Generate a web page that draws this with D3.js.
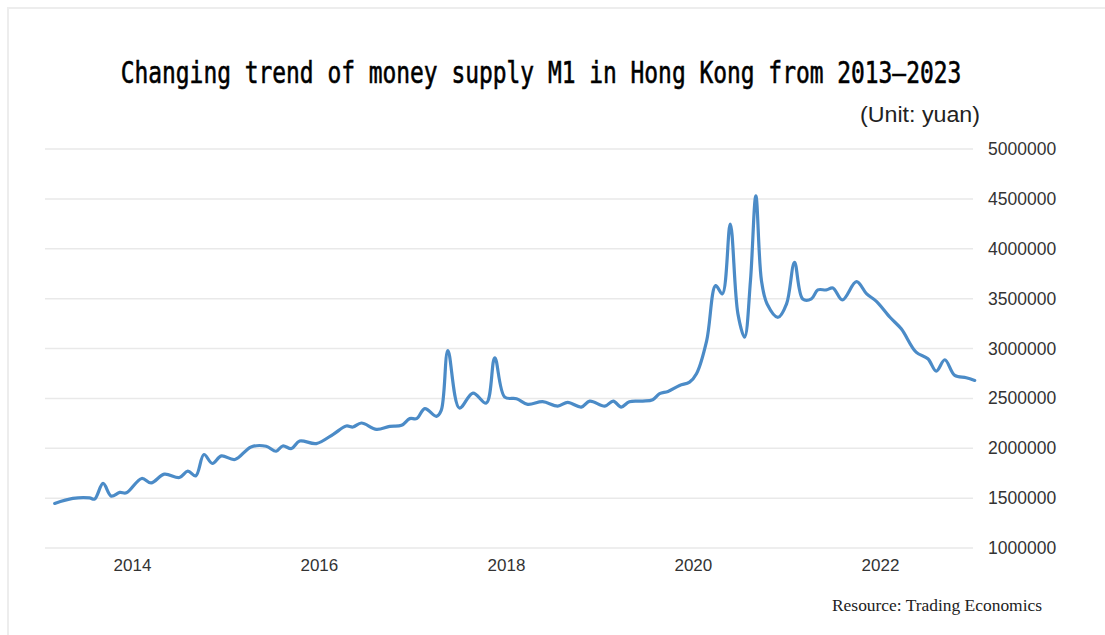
<!DOCTYPE html>
<html>
<head>
<meta charset="utf-8">
<script src="https://cdn.jsdelivr.net/npm/d3@7"></script>
<style>
  html, body { margin: 0; padding: 0; background: #fff; }
  svg { display: block; }
</style>
</head>
<body>
<div id="chart"></div>
<script>
// traced points of the M1 curve (date, value in yuan)
const dates = [
  '2013-03-05', '2013-05-15', '2013-07-19', '2013-08-08', '2013-09-10', '2013-10-12',
  '2013-11-14', '2013-12-10', '2014-02-08', '2014-03-17', '2014-05-07', '2014-07-05',
  '2014-08-07', '2014-09-07', '2014-10-09', '2014-11-11', '2014-12-16', '2015-02-07',
  '2015-04-11', '2015-06-09', '2015-07-18', '2015-08-13', '2015-09-16', '2015-10-18',
  '2015-12-22', '2016-02-26', '2016-04-17', '2016-05-13', '2016-06-15', '2016-08-13',
  '2016-10-04', '2016-11-19', '2016-12-21', '2017-01-17', '2017-02-18', '2017-04-04',
  '2017-04-23', '2017-05-19', '2017-07-03', '2017-08-25', '2017-10-16', '2017-11-18',
  '2017-12-27', '2018-02-11', '2018-03-27', '2018-05-24', '2018-07-22', '2018-08-30',
  '2018-10-22', '2018-11-24', '2019-01-22', '2019-02-24', '2019-03-27', '2019-04-28',
  '2019-06-19', '2019-07-28', '2019-08-24', '2019-09-26', '2019-11-10', '2019-12-19',
  '2020-01-15', '2020-02-24', '2020-03-30', '2020-04-25', '2020-05-26', '2020-06-25',
  '2020-07-21', '2020-08-13', '2020-09-03', '2020-09-25', '2020-10-17', '2020-11-29',
  '2021-01-01', '2021-02-01', '2021-03-05', '2021-04-08', '2021-05-03', '2021-06-05',
  '2021-07-01', '2021-08-07', '2021-10-01', '2021-11-10', '2021-12-18', '2022-02-09',
  '2022-03-25', '2022-05-22', '2022-07-07', '2022-08-09', '2022-09-11', '2022-10-20',
  '2022-12-04', '2023-01-06'
];
const m1 = [
  1447000, 1497000, 1502000, 1490000, 1647000, 1520000,
  1557000, 1553000, 1697000, 1653000, 1740000, 1707000,
  1770000, 1723000, 1937000, 1847000, 1923000, 1887000,
  2013000, 2020000, 1970000, 2023000, 1997000, 2073000,
  2047000, 2140000, 2223000, 2213000, 2253000, 2190000,
  2220000, 2230000, 2297000, 2297000, 2397000, 2320000,
  2380000, 2980000, 2403000, 2553000, 2453000, 2907000,
  2513000, 2497000, 2440000, 2467000, 2423000, 2460000,
  2413000, 2473000, 2423000, 2473000, 2413000, 2467000,
  2473000, 2487000, 2547000, 2570000, 2630000, 2663000,
  2747000, 3080000, 3630000, 3547000, 4247000, 3347000,
  3113000, 3680000, 4530000, 3680000, 3447000, 3313000,
  3447000, 3863000, 3497000, 3497000, 3587000, 3587000,
  3607000, 3487000, 3670000, 3547000, 3473000, 3313000,
  3197000, 2963000, 2897000, 2773000, 2887000, 2730000,
  2707000, 2680000
];
const yTicks = [1000000, 1500000, 2000000, 2500000, 3000000, 3500000, 4000000, 4500000, 5000000];
const xTickYears = [2014, 2016, 2018, 2020, 2022];

const width = 1105, height = 635;
const parse = d3.timeParse('%Y-%m-%d');
const data = dates.map((d, i) => ({ date: parse(d), value: m1[i] }));

const svg = d3.select('#chart').append('svg')
  .attr('width', width)
  .attr('height', height);

// faint frame (top and left edges only visible)
svg.append('path')
  .attr('d', 'M8,' + height + 'V8H' + width)
  .attr('fill', 'none')
  .attr('stroke', '#ededed')
  .attr('stroke-width', 2);

const x = d3.scaleTime()
  .domain([new Date(2014, 0, 1), new Date(2022, 0, 1)])
  .range([132, 880]);

const y = d3.scaleLinear()
  .domain([1000000, 5000000])
  .range([548, 149]);

// gridlines
svg.append('g')
  .selectAll('line')
  .data(yTicks)
  .join('line')
  .attr('x1', 45)
  .attr('x2', 973)
  .attr('y1', d => y(d))
  .attr('y2', d => y(d))
  .attr('stroke', '#e9e9e9')
  .attr('stroke-width', 1.5);

// y axis on the right
const yAxis = d3.axisRight(y)
  .tickValues(yTicks)
  .tickSize(0)
  .tickPadding(0)
  .tickFormat(d3.format('d'));

svg.append('g')
  .attr('transform', 'translate(988,0)')
  .call(yAxis)
  .call(g => g.select('.domain').remove())
  .selectAll('text')
  .attr('font-family', 'Liberation Sans, Arial, sans-serif')
  .attr('font-size', 17.5)
  .attr('fill', '#333');

// x axis
const xAxis = d3.axisBottom(x)
  .tickValues(xTickYears.map(yr => new Date(yr, 0, 1)))
  .tickSize(0)
  .tickPadding(0)
  .tickFormat(d3.timeFormat('%Y'));

svg.append('g')
  .attr('transform', 'translate(0,559)')
  .call(xAxis)
  .call(g => g.select('.domain').remove())
  .selectAll('text')
  .attr('font-family', 'Liberation Sans Narrow, Liberation Sans, Arial, sans-serif')
  .attr('font-size', 17)
  .attr('fill', '#333');

// the line
const line = d3.line()
  .x(d => x(d.date))
  .y(d => y(d.value))
  .curve(d3.curveCatmullRom.alpha(0.5));

svg.append('path')
  .datum(data)
  .attr('d', line)
  .attr('fill', 'none')
  .attr('stroke', '#4b8bc7')
  .attr('stroke-width', 3.2)
  .attr('stroke-linejoin', 'round')
  .attr('stroke-linecap', 'round');

// title: monospace, stretched vertically to look condensed
svg.append('text')
  .attr('transform', 'translate(541,83) scale(1,1.31)')
  .attr('text-anchor', 'middle')
  .attr('font-family', 'DejaVu Sans Mono, monospace')
  .attr('font-size', 22.9)
  .attr('fill', '#000')
  .attr('stroke', '#000')
  .attr('stroke-width', 0.45)
  .text('Changing trend of money supply M1 in Hong Kong from 2013\u20142023');

svg.append('text')
  .attr('x', 860)
  .attr('y', 122)
  .attr('textLength', 120)
  .attr('lengthAdjust', 'spacingAndGlyphs')
  .attr('font-family', 'Liberation Sans Narrow, Liberation Sans, sans-serif')
  .attr('font-size', 22)
  .attr('fill', '#222')
  .text('(Unit: yuan)');

svg.append('text')
  .attr('x', 832)
  .attr('y', 611)
  .attr('textLength', 210)
  .attr('lengthAdjust', 'spacingAndGlyphs')
  .attr('font-family', 'Liberation Serif, Times New Roman, serif')
  .attr('font-size', 16)
  .attr('fill', '#222')
  .text('Resource: Trading Economics');
</script>
</body>
</html>
